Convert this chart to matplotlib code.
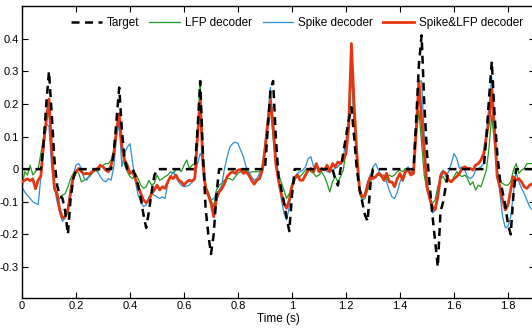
import numpy as np
import matplotlib
matplotlib.use("Agg")
import matplotlib.pyplot as plt

plt.rcParams['font.family'] = ['Liberation Sans', 'DejaVu Sans']

time_s = np.round(np.arange(190) * 0.01, 2)

target = [
    0, 0, 0, 0, 0, 0, 0, 0, 0.08, 0.2,
    0.30, 0.17, 0.03, -0.05, -0.08, -0.09, -0.13, -0.20, -0.09, -0.03,
    0, 0, 0, 0, 0, 0, 0, 0, 0, 0,
    0, 0, 0, 0, 0.05, 0.15, 0.25, 0.12, 0.03, 0,
    0, 0, -0.02, -0.05, -0.09, -0.14, -0.18, -0.13, -0.07, -0.02,
    0, 0, 0, 0, 0, 0, 0, 0, 0, 0,
    0, 0, 0, 0, 0, 0.12, 0.27, 0.05, -0.12, -0.2,
    -0.26, -0.2, -0.08, 0, 0, 0, 0, 0, 0, 0,
    0, 0, 0, 0, 0, 0, 0, 0, 0, 0,
    0, 0.12, 0.24, 0.27, 0.1, -0.02, -0.06, -0.1, -0.15, -0.19,
    -0.08, 0, 0, 0, 0, 0, 0, 0, 0, 0,
    0, 0, 0, 0, 0, 0, -0.03, -0.05, 0, 0.05,
    0.1, 0.15, 0.19, 0.1, 0.0, -0.06, -0.1, -0.14, -0.16, -0.05,
    0, 0, 0, 0, 0, 0, 0, 0, 0, 0,
    0, 0, 0, 0, 0, 0, 0.15, 0.32, 0.41, 0.2,
    0.05, -0.05, -0.14, -0.22, -0.30, -0.13, -0.1, -0.05, 0, 0,
    0, 0, 0, 0, 0, 0, 0, 0, 0, 0,
    0, 0, 0.1, 0.22, 0.33, 0.17, 0.05, -0.03, -0.07, -0.11,
    -0.17, -0.2, -0.08, 0, 0, 0, 0, 0, 0, 0,
]

lfp = [
    -0.059, -0.008, -0.018, 0.012, -0.018, -0.008, 0.002, 0.048, 0.1, 0.15,
    0.175, 0.048, -0.049, -0.095, -0.09, -0.08, -0.075, -0.054, -0.029, -0.013,
    -0.003, -0.013, -0.039, -0.034, -0.029, -0.023, -0.013, -0.003, -0.008, 0.007,
    0.012, 0.017, 0.017, 0.028, 0.058, 0.12, 0.16, 0.058, 0.012, -0.008,
    -0.023, -0.029, -0.013, -0.029, -0.049, -0.059, -0.054, -0.034, -0.049, -0.044,
    -0.018, -0.034, -0.029, -0.023, -0.018, -0.008, -0.013, -0.003, 0.002, -0.008,
    0.012, 0.028, 0.002, 0.012, 0.017, 0.12, 0.27, 0.048, -0.049, -0.07,
    -0.095, -0.115, -0.064, -0.049, -0.044, -0.034, -0.029, -0.029, -0.034, -0.023,
    -0.013, -0.008, -0.003, -0.003, -0.013, -0.008, -0.008, -0.008, -0.008, 0.002,
    0.048, 0.13, 0.19, 0.1, 0.017, -0.018, -0.039, -0.064, -0.09, -0.075,
    -0.044, -0.023, -0.018, -0.023, -0.013, -0.003, 0.002, -0.008, -0.013, -0.023,
    -0.018, -0.008, -0.023, -0.044, -0.07, -0.039, -0.023, -0.039, -0.023, -0.003,
    0.058, 0.14, 0.29, 0.15, 0.02, -0.075, -0.095, -0.09, -0.064, -0.039,
    -0.023, -0.023, -0.018, -0.023, -0.018, -0.034, -0.018, -0.023, -0.018, -0.008,
    -0.003, -0.008, 0.002, -0.003, -0.013, -0.003, 0.1, 0.18, 0.08, -0.02,
    -0.064, -0.09, -0.105, -0.095, -0.054, -0.029, -0.023, -0.039, -0.029, -0.039,
    -0.023, -0.008, -0.018, -0.023, -0.018, -0.029, -0.049, -0.039, -0.064, -0.049,
    -0.054, -0.029, -0.003, 0.068, 0.165, 0.078, -0.003, -0.039, -0.044, -0.049,
    -0.049, -0.039, -0.003, 0.017, -0.013, -0.003, 0.002, 0.017, 0.017, 0.017,
]

spike = [
    -0.054, -0.07, -0.08, -0.09, -0.1, -0.105, -0.108, -0.023, 0.058, 0.14,
    0.13, 0.007, -0.054, -0.1, -0.135, -0.16, -0.15, -0.115, -0.054, -0.018,
    0.012, 0.017, 0.002, -0.029, -0.034, -0.018, -0.008, 0.002, -0.008, -0.023,
    -0.034, -0.039, -0.029, -0.034, 0.007, 0.1, 0.14, 0.007, 0.048, 0.068,
    0.078, 0.017, -0.039, -0.08, -0.1, -0.115, -0.11, -0.085, -0.075, -0.08,
    -0.085, -0.09, -0.085, -0.09, -0.044, -0.023, -0.008, -0.023, -0.039, -0.049,
    -0.054, -0.052, -0.049, -0.039, -0.023, 0.017, 0.048, 0.028, -0.054, -0.08,
    -0.095, -0.09, -0.075, -0.064, -0.049, 0.002, 0.038, 0.068, 0.078, 0.083,
    0.078, 0.058, 0.038, 0.007, -0.008, -0.023, -0.034, -0.029, -0.013, 0.007,
    0.078, 0.16, 0.25, 0.15, 0.048, -0.023, -0.09, -0.135, -0.156, -0.115,
    -0.054, -0.023, -0.013, -0.008, -0.003, 0.007, 0.033, 0.038, 0.007, 0.012,
    0.002, -0.003, 0.002, -0.008, -0.008, -0.003, 0.002, 0.007, 0.017, 0.038,
    0.089, 0.16, 0.3, 0.15, 0.03, -0.064, -0.09, -0.08, -0.039, -0.018,
    0.007, 0.017, -0.003, -0.018, -0.034, -0.039, -0.064, -0.085, -0.09, -0.07,
    -0.039, -0.023, -0.003, 0.007, -0.013, 0.007, 0.13, 0.27, 0.27, 0.1,
    -0.034, -0.095, -0.135, -0.125, -0.064, -0.013, -0.003, -0.023, -0.008, 0.017,
    0.048, 0.033, 0.002, 0.007, -0.003, -0.023, -0.029, -0.023, -0.003, 0.002,
    0.007, 0.017, 0.11, 0.2, 0.28, 0.15, -0.003, -0.075, -0.146, -0.18,
    -0.175, -0.146, -0.075, -0.008, -0.039, -0.059, -0.075, -0.095, -0.115, -0.125,
]

spike_lfp = [
    -0.039, -0.034, -0.03, -0.035, -0.03, -0.06, -0.034, -0.02, 0.08, 0.15,
    0.215, 0.06, -0.06, -0.075, -0.125, -0.15, -0.146, -0.125, -0.075, -0.023,
    -0.008, 0.002, -0.008, -0.015, -0.013, -0.015, -0.008, -0.003, 0.002, 0.012,
    0.007, -0.003, -0.008, 0.012, 0.048, 0.12, 0.17, 0.068, 0.028, 0.012,
    -0.013, -0.008, -0.029, -0.054, -0.075, -0.095, -0.103, -0.095, -0.075, -0.064,
    -0.049, -0.064, -0.054, -0.059, -0.039, -0.023, -0.029, -0.018, -0.034, -0.039,
    -0.049, -0.039, -0.034, -0.037, -0.029, 0.1, 0.21, 0.017, -0.06, -0.08,
    -0.105, -0.146, -0.09, -0.07, -0.06, -0.044, -0.023, -0.013, -0.008, -0.013,
    -0.003, -0.001, -0.013, -0.008, -0.018, -0.034, -0.046, -0.034, -0.029, -0.003,
    0.06, 0.14, 0.21, 0.13, 0.017, -0.034, -0.075, -0.105, -0.12, -0.095,
    -0.054, -0.029, -0.018, -0.034, -0.034, -0.018, -0.003, 0.002, -0.008, 0.017,
    -0.008, 0.002, -0.003, 0.012, -0.008, 0.017, 0.007, 0.022, 0.017, 0.028,
    0.048, 0.13, 0.385, 0.2, 0.05, -0.064, -0.085, -0.08, -0.049, -0.023,
    -0.029, -0.023, -0.013, -0.018, -0.034, -0.013, -0.039, -0.039, -0.054, -0.029,
    -0.013, -0.034, -0.008, -0.003, -0.018, -0.013, 0.12, 0.272, 0.15, 0.05,
    -0.054, -0.09, -0.115, -0.125, -0.085, -0.023, -0.008, -0.013, -0.034, -0.039,
    -0.029, -0.023, -0.013, 0.002, 0.007, 0.002, 0.002, -0.003, 0.012, 0.017,
    0.028, 0.048, 0.1, 0.15, 0.245, 0.12, -0.023, -0.054, -0.095, -0.125,
    -0.11, -0.064, -0.023, -0.034, -0.029, -0.039, -0.054, -0.059, -0.049, -0.045,
]

xticks = [0, 0.2, 0.4, 0.6, 0.8, 1, 1.2, 1.4, 1.6, 1.8]
xticklabels = ['0', '0.2', '0.4', '0.6', '0.8', '1', '1.2', '1.4', '1.6', '1.8']
yticks = [-0.3, -0.2, -0.1, 0, 0.1, 0.2, 0.3, 0.4]
yticklabels = ['-0.3', '-0.2', '-0.1', '0', '0.1', '0.2', '0.3', '0.4']

fig = plt.figure(figsize=(5.32, 3.28), dpi=100)
ax = fig.add_axes([22/532, 30/328, 513/532, 292/328])

ax.plot(time_s, target, color='black', lw=1.8, ls=(0, (3.2, 2.2)), label='Target', zorder=4)
ax.plot(time_s, lfp, color='#1f9a1f', lw=0.9, label='LFP decoder', zorder=2)
ax.plot(time_s, spike, color='#2b8fd6', lw=0.9, label='Spike decoder', zorder=2)
ax.plot(time_s, spike_lfp, color='#e33712', lw=2.0, label='Spike&LFP decoder', zorder=3)

ax.set_xlim(0, 1.9)
ax.set_ylim(-0.395, 0.5)
ax.set_xticks(xticks)
ax.set_xticklabels(xticklabels)
ax.set_yticks(yticks)
ax.set_yticklabels(yticklabels)
ax.tick_params(direction='in', top=True, right=True, labelsize=8, length=4, width=0.8, pad=2.5)
for s in ax.spines.values():
    s.set_linewidth(1.0)
ax.set_xlabel('Time (s)', fontsize=8.5, labelpad=1)

ax.legend(loc='upper center', bbox_to_anchor=(0.536, 0.985), ncol=4, frameon=False,
          fontsize=8.5, handlelength=2.6, columnspacing=0.9, handletextpad=0.4,
          borderaxespad=0.2)

fig.savefig('out.png', dpi=100)
